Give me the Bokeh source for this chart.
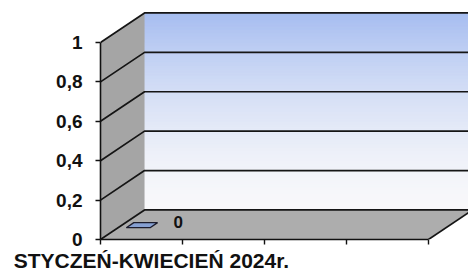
import numpy as np
from bokeh.plotting import figure
from bokeh.models import FixedTicker, LinearAxis, Range1d
from bokeh.embed import file_html
from bokeh.resources import INLINE
from bokeh.core.properties import value

# ---- data ----
categories = ["STYCZEŃ-KWIECIEŃ 2024r."]
values = [0]
value_labels = ["0"]
y_ticks = [0, 0.2, 0.4, 0.6, 0.8, 1.0]
y_tick_labels = ["0", "0,2", "0,4", "0,6", "0,8", "1"]
x_slots = [0, 1, 2, 3, 4]

# ---- 3D geometry (layout) ----
NSLOT = 4
DX, DY = 0.537, 0.150
X_END = 368 / 82
Y_END = 239 / 197
LABEL_POS = 0.62


def proj(x, y, z):
    return x + z * DX, y + z * DY


FONT = value("Liberation Sans")

p = figure(width=468, height=277,
           x_range=Range1d(0, X_END), y_range=Range1d(0, Y_END),
           output_backend="svg", toolbar_location=None,
           x_axis_location=None, y_axis_location=None,
           min_border_left=100, min_border_right=0,
           min_border_top=0, min_border_bottom=38)
p.outline_line_color = None
p.background_fill_color = "white"
p.border_fill_color = "white"
p.xgrid.visible = False
p.ygrid.visible = False

# back wall gradient
n = 60
ys = np.linspace(DY, 1 + DY, n + 1)
top_c = np.array([166, 189, 240])
bot_c = np.array([248, 248, 250])
cols = []
for k in range(n):
    t = ((k + 0.5) / n) ** 1.6
    c = bot_c + (top_c - bot_c) * t
    cols.append("#%02x%02x%02x" % tuple(int(round(v)) for v in c))
p.quad(left=DX, right=NSLOT + DX + 0.2, bottom=ys[:-1], top=ys[1:],
       fill_color=cols, line_color=cols, line_width=1)

# left wall
lw = [proj(0, 0, 0), proj(0, 0, 1), proj(0, 1, 1), proj(0, 1, 0)]
p.patch([q[0] for q in lw], [q[1] for q in lw], fill_color="#a5a5a5",
        line_color=None)

# floor
fl = [proj(0, 0, 0), proj(NSLOT, 0, 0), proj(NSLOT, 0, 1), proj(0, 0, 1)]
p.patch([q[0] for q in fl], [q[1] for q in fl], fill_color="#adadad",
        line_color=None)

# gridlines on walls
gx, gy = [], []
for t in y_ticks:
    a = proj(0, t, 0)
    b = proj(0, t, 1)
    c = proj(NSLOT + 0.3, t, 1)
    gx.append([a[0], b[0], c[0]])
    gy.append([a[1], b[1], c[1]])
a = proj(NSLOT, 0, 0)
b = proj(NSLOT, 0, 1)
gx.append([a[0], b[0]])
gy.append([a[1], b[1]])
p.multi_line(gx, gy, line_color="#151515", line_width=1.7)

# bars (flat, value 0)
bxs, bys, tx, ty = [], [], [], []
for i, v in enumerate(values):
    x0, x1 = i + 0.10, i + 0.39
    z0, z1 = 0.40, 0.57
    pts = [proj(x0, v, z0), proj(x1, v, z0), proj(x1, v, z1), proj(x0, v, z1)]
    bxs.append([q[0] for q in pts])
    bys.append([q[1] for q in pts])
    lx, ly = proj(i + 0.68, v, 0.5)
    tx.append(lx)
    ty.append(ly + 0.015)
p.patches(bxs, bys, fill_color="#86a0d2", line_color="#1c1c2c", line_width=1.3)
p.text(x=tx, y=ty, text=value_labels, text_align="center",
       text_baseline="middle",
       text_font=FONT, text_font_style="bold", text_font_size="17px",
       text_color="#111111")

# y axis
yaxis = LinearAxis(bounds=(0, 1), ticker=FixedTicker(ticks=y_ticks, minor_ticks=[]),
                   major_label_overrides=dict(zip(y_ticks, y_tick_labels)))
yaxis.axis_line_color = "#111111"
yaxis.axis_line_width = 1.6
yaxis.major_tick_line_color = "#111111"
yaxis.major_tick_line_width = 1.5
yaxis.major_tick_out = 5
yaxis.major_tick_in = 0
yaxis.minor_tick_line_color = None
yaxis.major_label_standoff = 13
yaxis.major_label_text_font = "Liberation Sans"
yaxis.major_label_text_font_style = "bold"
yaxis.major_label_text_font_size = "19px"
yaxis.major_label_text_color = "#111111"
p.add_layout(yaxis, "left")

# x axis: category divisions as ticks, category name as label
cat_ticks = [i + LABEL_POS for i in range(len(categories))]
xaxis = LinearAxis(bounds=(0, NSLOT),
                   ticker=FixedTicker(ticks=cat_ticks, minor_ticks=x_slots),
                   major_label_overrides=dict(zip(cat_ticks, categories)))
xaxis.axis_line_color = "#111111"
xaxis.axis_line_width = 1.6
xaxis.major_tick_line_color = None
xaxis.major_tick_out = 0
xaxis.major_tick_in = 0
xaxis.minor_tick_line_color = "#111111"
xaxis.minor_tick_line_width = 1.4
xaxis.minor_tick_out = 5
xaxis.minor_tick_in = 0
xaxis.major_label_standoff = 4
xaxis.major_label_text_line_height = 1.0
xaxis.major_label_text_font = "Liberation Sans"
xaxis.major_label_text_font_style = "bold"
xaxis.major_label_text_font_size = "21px"
xaxis.major_label_text_color = "#111111"
p.add_layout(xaxis, "below")

open("out.html", "w").write(file_html(p, INLINE))
